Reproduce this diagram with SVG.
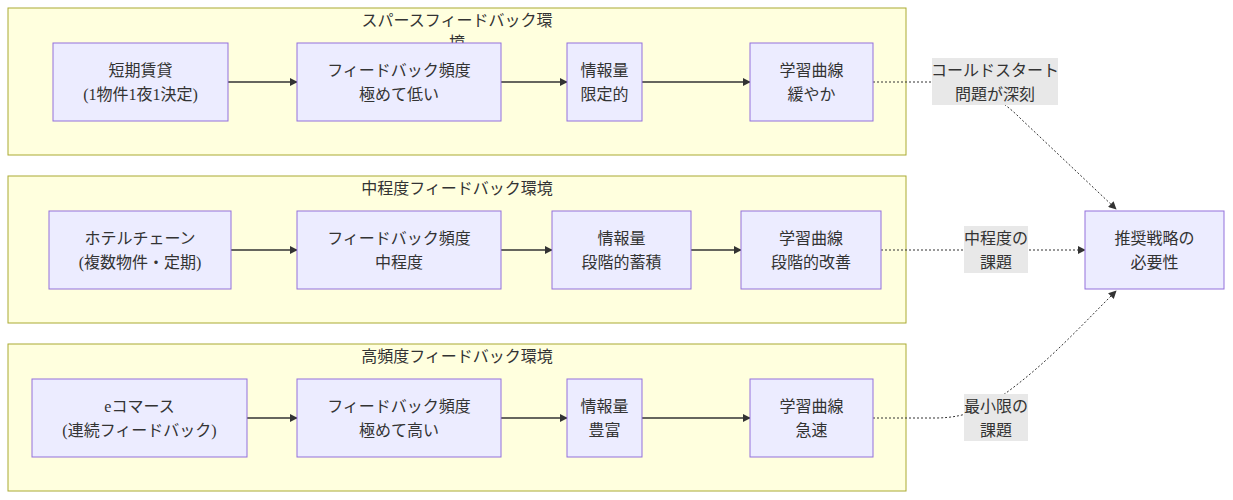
<svg xmlns="http://www.w3.org/2000/svg" width="1233" height="500" viewBox="0 0 1233 500">
<style>
.cl{fill:#ffffde;stroke:#aaaa33;stroke-width:1}
.nd{fill:#ececff;stroke:#9370db;stroke-width:1}
text{font-family:"Liberation Serif","Noto Sans CJK JP",serif;font-size:16px;fill:#333;text-anchor:middle;dominant-baseline:central}
.e{fill:none;stroke:#333;stroke-width:1.5}
.d{fill:none;stroke:#333;stroke-width:1;stroke-dasharray:2 2}
.lb{fill:#e8e8e8}
</style>
<defs>
<marker id="ah" viewBox="0 0 10 10" refX="9" refY="5" markerWidth="8" markerHeight="8" markerUnits="userSpaceOnUse" orient="auto"><path d="M0,0L10,5L0,10z" fill="#333"/></marker>
</defs>
<g id="clusters">
<g id="c1"><rect class="cl" x="8" y="8" width="898" height="147"/><text x="457" y="20">スパースフィードバック環</text><text x="457" y="42">境</text></g>
<g id="c2"><rect class="cl" x="8" y="176" width="898" height="147"/><text x="457" y="188">中程度フィードバック環境</text></g>
<g id="c3"><rect class="cl" x="8" y="344" width="898" height="147"/><text x="457" y="356">高頻度フィードバック環境</text></g>
</g>
<g id="connectors">
<path class="e" d="M228,82H297" marker-end="url(#ah)"/>
<path class="e" d="M501,82H567" marker-end="url(#ah)"/>
<path class="e" d="M642,82H750" marker-end="url(#ah)"/>
<path class="e" d="M231,250H297" marker-end="url(#ah)"/>
<path class="e" d="M501,250H552" marker-end="url(#ah)"/>
<path class="e" d="M691,250H741" marker-end="url(#ah)"/>
<path class="e" d="M247,418H297" marker-end="url(#ah)"/>
<path class="e" d="M501,418H567" marker-end="url(#ah)"/>
<path class="e" d="M642,418H750" marker-end="url(#ah)"/>
<path class="d" d="M873,82L935,82C975,83 1000,98 1020,118L1116,209" marker-end="url(#ah)"/>
<path class="d" d="M881,250H1085" marker-end="url(#ah)"/>
<path class="d" d="M873,418L935,418C970,418 990,405 1010,390C1050,360 1080,327 1116,291" marker-end="url(#ah)"/>
</g>
<g id="edge-labels">
<g id="l1"><rect class="lb" x="932" y="58" width="126" height="47"/><text x="995" y="70">コールドスタート</text><text x="995" y="94">問題が深刻</text></g>
<g id="l2"><rect class="lb" x="964" y="226" width="64" height="47"/><text x="996" y="238">中程度の</text><text x="996" y="262">課題</text></g>
<g id="l3"><rect class="lb" x="964" y="394" width="64" height="47"/><text x="996" y="406">最小限の</text><text x="996" y="430">課題</text></g>
</g>
<g id="nA"><rect class="nd" x="53" y="43" width="175" height="78"/><text x="140.5" y="70">短期賃貸</text><text x="140.5" y="94">(1物件1夜1決定)</text></g>
<g id="nB"><rect class="nd" x="297" y="43" width="204" height="78"/><text x="399" y="70">フィードバック頻度</text><text x="399" y="94">極めて低い</text></g>
<g id="nC"><rect class="nd" x="567" y="43" width="75" height="78"/><text x="604.5" y="70">情報量</text><text x="604.5" y="94">限定的</text></g>
<g id="nD"><rect class="nd" x="750" y="43" width="123" height="78"/><text x="811.5" y="70">学習曲線</text><text x="811.5" y="94">緩やか</text></g>
<g id="nE"><rect class="nd" x="49" y="211" width="182" height="78"/><text x="140" y="238">ホテルチェーン</text><text x="140" y="262">(複数物件・定期)</text></g>
<g id="nF"><rect class="nd" x="297" y="211" width="204" height="78"/><text x="399" y="238">フィードバック頻度</text><text x="399" y="262">中程度</text></g>
<g id="nG"><rect class="nd" x="552" y="211" width="139" height="78"/><text x="621.5" y="238">情報量</text><text x="621.5" y="262">段階的蓄積</text></g>
<g id="nH"><rect class="nd" x="741" y="211" width="140" height="78"/><text x="811" y="238">学習曲線</text><text x="811" y="262">段階的改善</text></g>
<g id="nI"><rect class="nd" x="32" y="379" width="215" height="78"/><text x="139.5" y="406">eコマース</text><text x="139.5" y="430">(連続フィードバック)</text></g>
<g id="nJ"><rect class="nd" x="297" y="379" width="204" height="78"/><text x="399" y="406">フィードバック頻度</text><text x="399" y="430">極めて高い</text></g>
<g id="nK"><rect class="nd" x="567" y="379" width="75" height="78"/><text x="604.5" y="406">情報量</text><text x="604.5" y="430">豊富</text></g>
<g id="nL"><rect class="nd" x="750" y="379" width="123" height="78"/><text x="811.5" y="406">学習曲線</text><text x="811.5" y="430">急速</text></g>
<g id="nZ"><rect class="nd" x="1085" y="211" width="139" height="78"/><text x="1154.5" y="238">推奨戦略の</text><text x="1154.5" y="262">必要性</text></g>
</svg>
